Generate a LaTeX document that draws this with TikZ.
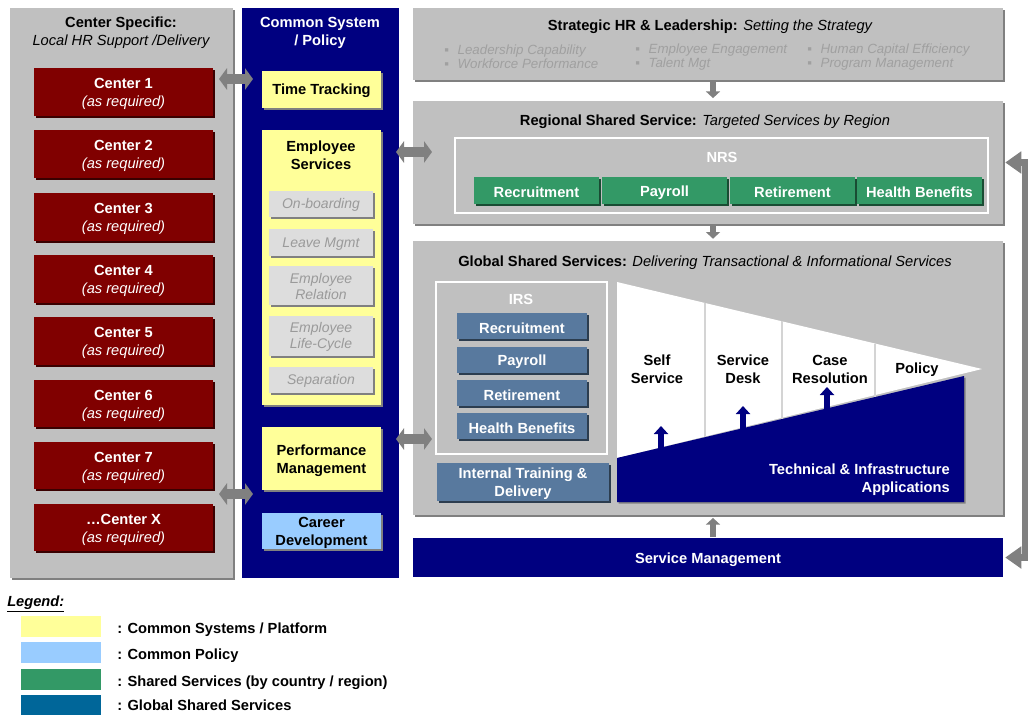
\documentclass[tikz,border=0pt]{standalone}
\usepackage{fontspec}
\setmainfont{Liberation Sans}
\usetikzlibrary{fit,shadows,arrows.meta,calc}
\definecolor{pgray}{HTML}{C0C0C0}
\definecolor{sgray}{HTML}{808080}
\definecolor{navyb}{HTML}{000080}
\definecolor{dred}{HTML}{800000}
\definecolor{lyel}{HTML}{FFFF99}
\definecolor{lblu}{HTML}{99CCFF}
\definecolor{sgreen}{HTML}{339966}
\definecolor{steel}{HTML}{58799E}
\definecolor{gblue}{HTML}{006699}
\definecolor{subg}{HTML}{DDDDDD}
\definecolor{subt}{HTML}{9A9A9A}
\definecolor{itemt}{HTML}{A0A0A0}
\definecolor{divg}{HTML}{D4D4D4}
\newcommand\myB{\fontsize{11}{13.5}\selectfont\bfseries}
\newcommand\myI{\fontsize{11}{13.5}\selectfont\mdseries\itshape}
\newcommand\myS{\fontsize{10}{10.5}\selectfont\mdseries\itshape}
\newcommand\mySub{\fontsize{10.5}{12}\selectfont\mdseries\itshape}
\newcommand\bul{\makebox[10pt][l]{\upshape ▪}}
\tikzset{
  sh/.style={drop shadow={shadow xshift=1.5pt,shadow yshift=-1.5pt,fill=sgray,opacity=1}},
  panel/.style={fill=pgray,inner sep=0,sh},
  cbox/.style={fill=dred,inner sep=0,
    drop shadow={shadow xshift=1.2pt,shadow yshift=-1.5pt,fill=black!55!dred,opacity=1}},
  ybox/.style={fill=lyel,inner sep=0,sh},
  sbox/.style={fill=subg,inner sep=0,
    drop shadow={shadow xshift=1.2pt,shadow yshift=-1.2pt,fill=sgray,opacity=1}},
  gbox/.style={fill=sgreen,inner sep=0,
    drop shadow={shadow xshift=1.2pt,shadow yshift=-1.2pt,fill=black!50!sgreen,opacity=1}},
  ibox/.style={fill=steel,inner sep=0,
    drop shadow={shadow xshift=1.2pt,shadow yshift=-1.2pt,fill=black!50!steel,opacity=1}},
  lbl/.style={inner sep=0,align=center,yshift=-1.5pt},
  blbl/.style={lbl,font=\myB},
  wlbl/.style={lbl,text=white,font=\myB},
  sublbl/.style={lbl,text=subt,font=\mySub,yshift=0.5pt},
  frame/.style={draw=white,line width=1.5pt,inner sep=0},
  swatch/.style={inner sep=0},
  legtxt/.style={inner sep=0,anchor=west,font=\myB,yshift=-1.5pt},
  dbl/.style={draw=sgray,line width=7.5pt,{Triangle[length=6pt,width=16pt]}-{Triangle[length=6pt,width=16pt]}},
  garr/.style={draw=sgray,line width=4pt,-{Triangle[length=5pt,width=10.5pt]}},
  narr/.style={draw=navyb,line width=4.5pt,-{Triangle[length=6pt,width=10.5pt]}},
  elb/.style={draw=sgray,line width=5pt,{Triangle[length=12pt,width=16pt]}-{Triangle[length=12pt,width=16pt]}},
  divl/.style={draw=divg,line width=0.8pt},
}
\begin{document}
\begin{tikzpicture}[x=0.75pt,y=-0.75pt]
\useasboundingbox (0,0) rectangle (1028,715);

% ---------- left panel ----------
\node[panel, fit={(10,8)(233,578)}] (lp) {};
\node[blbl] (lpt) at (121,31) {Center Specific:\\{\myI Local HR Support /Delivery}};
\node[cbox, fit={(34,68)(213,116)}] (c1) {};
\node[cbox, fit={(34,130)(213,178)}] (c2) {};
\node[cbox, fit={(34,193)(213,241)}] (c3) {};
\node[cbox, fit={(34,255)(213,303)}] (c4) {};
\node[cbox, fit={(34,317)(213,365)}] (c5) {};
\node[cbox, fit={(34,380)(213,427)}] (c6) {};
\node[cbox, fit={(34,442)(213,489)}] (c7) {};
\node[cbox, fit={(34,504)(213,551)}] (cx) {};
\node[wlbl] (c1t) at (c1) {Center 1\\{\myI (as required)}};
\node[wlbl] (c2t) at (c2) {Center 2\\{\myI (as required)}};
\node[wlbl] (c3t) at (c3) {Center 3\\{\myI (as required)}};
\node[wlbl] (c4t) at (c4) {Center 4\\{\myI (as required)}};
\node[wlbl] (c5t) at (c5) {Center 5\\{\myI (as required)}};
\node[wlbl] (c6t) at (c6) {Center 6\\{\myI (as required)}};
\node[wlbl] (c7t) at (c7) {Center 7\\{\myI (as required)}};
\node[wlbl] (cxt) at (cx) {\dots Center X\\{\myI (as required)}};

% ---------- common system column ----------
\node[fill=navyb, inner sep=0, fit={(242,8)(399,578)}] (bc) {};
\node[wlbl] (bct) at (320,31) {Common System\\/ Policy};
\node[ybox, fit={(262,71)(381,108)}] (tt) {};
\node[blbl, yshift=0.5pt] (ttt) at (tt) {Time Tracking};
\node[ybox, fit={(262,130)(381,405)}] (es) {};
\node[blbl] (est) at (321,153.5) {Employee\\Services};
\node[sbox, fit={(269,191)(373,217)}] (s1) {};
\node[sbox, fit={(269,229)(373,256)}] (s2) {};
\node[sbox, fit={(269,266)(373,305)}] (s3) {};
\node[sbox, fit={(269,316)(373,356)}] (s4) {};
\node[sbox, fit={(269,367)(373,393)}] (s5) {};
\node[sublbl] (s1t) at (s1) {On-boarding};
\node[sublbl] (s2t) at (s2) {Leave Mgmt};
\node[sublbl] (s3t) at (s3) {Employee\\Relation};
\node[sublbl] (s4t) at (s4) {Employee\\Life-Cycle};
\node[sublbl] (s5t) at (s5) {Separation};
\node[ybox, fit={(262,427)(381,490)}] (pm) {};
\node[blbl] (pmt) at (pm) {Performance\\Management};
\node[ybox, fill=lblu, fit={(262,513)(381,549)}] (cd) {};
\node[blbl] (cdt) at (cd) {Career\\Development};

% ---------- strategic ----------
\node[panel, fit={(413,8)(1003,80)}] (strat) {};
\node[blbl] (stt) at (710,25) {Strategic HR \& Leadership: {\myI Setting the Strategy}};
\node[lbl, anchor=west, align=left, font=\myS, text=itemt] (si1) at (444,55) {\bul Leadership Capability\\\bul Workforce Performance};
\node[lbl, anchor=west, align=left, font=\myS, text=itemt] (si2) at (635,55) {\bul Employee Engagement\\\bul Talent Mgt};
\node[lbl, anchor=west, align=left, font=\myS, text=itemt] (si3) at (807,55) {\bul Human Capital Efficiency\\\bul Program Management};

% ---------- regional ----------
\node[panel, fit={(413,101)(1003,224)}] (reg) {};
\node[blbl] (regt) at (705,120) {Regional Shared Service: {\myI Targeted Services by Region}};
\node[frame, fit={(455,138)(988,213)}] (nrs) {};
\node[wlbl] (nrst) at (722,155) {NRS};
\node[gbox, fit={(474,177)(599,204)}] (g1) {};
\node[gbox, fit={(602,177)(727,204)}] (g2) {};
\node[gbox, fit={(730,177)(855,204)}] (g3) {};
\node[gbox, fit={(857,177)(982,204)}] (g4) {};
\node[wlbl] (g1t) at (g1) {Recruitment};
\node[wlbl] (g2t) at (g2) {Payroll};
\node[wlbl] (g3t) at (g3) {Retirement};
\node[wlbl] (g4t) at (g4) {Health Benefits};

% ---------- global ----------
\node[panel, fit={(413,241)(1003,515)}] (glob) {};
\node[blbl] (globt) at (705,261) {Global Shared Services: {\myI Delivering Transactional \& Informational Services}};
\node[frame, fit={(436,282)(607,454)}] (irs) {};
\node[wlbl] (irst) at (521,297) {IRS};
\node[ibox, fit={(457,313)(587,339)}] (i1) {};
\node[ibox, fit={(457,347)(587,373)}] (i2) {};
\node[ibox, fit={(457,380)(587,406)}] (i3) {};
\node[ibox, fit={(457,413)(587,439)}] (i4) {};
\node[ibox, fit={(437,463)(609,501)}] (itd) {};
\node[wlbl] (i1t) at (i1) {Recruitment};
\node[wlbl] (i2t) at (i2) {Payroll};
\node[wlbl] (i3t) at (i3) {Retirement};
\node[wlbl] (i4t) at (i4) {Health Benefits};
\node[wlbl] (itdt) at (itd) {Internal Training \&\\Delivery};

% wedge
\fill[white] (617,282) -- (982,369) -- (617,458) -- cycle;
\fill[navyb, drop shadow={shadow xshift=1.2pt,shadow yshift=-1.2pt,fill=sgray,opacity=1}]
  (617,458) -- (964,376) -- (964,502) -- (617,502) -- cycle;
\draw[divl] (705,303) -- (705,436.5);
\draw[divl] (782,321.3) -- (782,418.5);
\draw[divl] (875,343.5) -- (875,396.8);
\node[blbl] (w1) at (657,367) {Self\\Service};
\node[blbl] (w2) at (743,367) {Service\\Desk};
\node[blbl] (w3) at (830,367) {Case\\Resolution};
\node[blbl] (w4) at (917,368) {Policy};
\node[wlbl, align=right, anchor=east] (tia) at (950,478) {Technical \& Infrastructure\\Applications};
\coordinate (u1s) at (661,453); \coordinate (u1e) at (661,426);
\coordinate (u2s) at (743,434); \coordinate (u2e) at (743,406);
\coordinate (u3s) at (827,414); \coordinate (u3e) at (827,387);
\draw[narr] (u1s) -- (u1e);
\draw[narr] (u2s) -- (u2e);
\draw[narr] (u3s) -- (u3e);

% ---------- service management ----------
\node[fill=navyb, inner sep=0, fit={(413,538)(1003,577)}] (sm) {};
\node[wlbl] (smt) at (708,557.5) {Service Management};

% ---------- connectors ----------
\coordinate (ax) at (713,0);
\draw[garr, shorten <=1.5pt, shorten >=2pt] (strat.south -| ax) -- (reg.north -| ax);
\draw[garr, shorten <=1.5pt, shorten >=1.5pt] (reg.south -| ax) -- (glob.north -| ax);
\draw[garr, shorten <=0.5pt, shorten >=2pt] (sm.north -| ax) -- (glob.south -| ax);

\coordinate (a1l) at (219,79);  \coordinate (a1r) at (253,79);
\coordinate (a2l) at (219,494); \coordinate (a2r) at (253,494);
\coordinate (a3l) at (396,152); \coordinate (a3r) at (432,152);
\coordinate (a4l) at (396,439); \coordinate (a4r) at (432,439);
\draw[dbl] (a1l) -- (a1r);
\draw[dbl] (a2l) -- (a2r);
\draw[dbl] (a3l) -- (a3r);
\draw[dbl] (a4l) -- (a4r);

\draw[elb] ([xshift=1.5pt]reg.east) -- ++(20,0) |- ([xshift=1.5pt]sm.east);

% ---------- legend ----------
\node[inner sep=0, anchor=west, font=\myB\itshape, yshift=-1.5pt] (leg) at (7,602) {\underline{Legend:}};
\node[swatch, fill=lyel,   fit={(21,616)(101,637)}] (l1) {};
\node[swatch, fill=lblu,   fit={(21,642)(101,663)}] (l2) {};
\node[swatch, fill=sgreen, fit={(21,669)(101,690)}] (l3) {};
\node[swatch, fill=gblue,  fit={(21,695)(101,715)}] (l4) {};
\node[legtxt] (lt1) at (117,628) {: Common Systems / Platform};
\node[legtxt] (lt2) at (117,654) {: Common Policy};
\node[legtxt] (lt3) at (117,681) {: Shared Services (by country / region)};
\node[legtxt, yshift=1.5pt] (lt4) at (117,705) {: Global Shared Services};
\end{tikzpicture}
\end{document}
